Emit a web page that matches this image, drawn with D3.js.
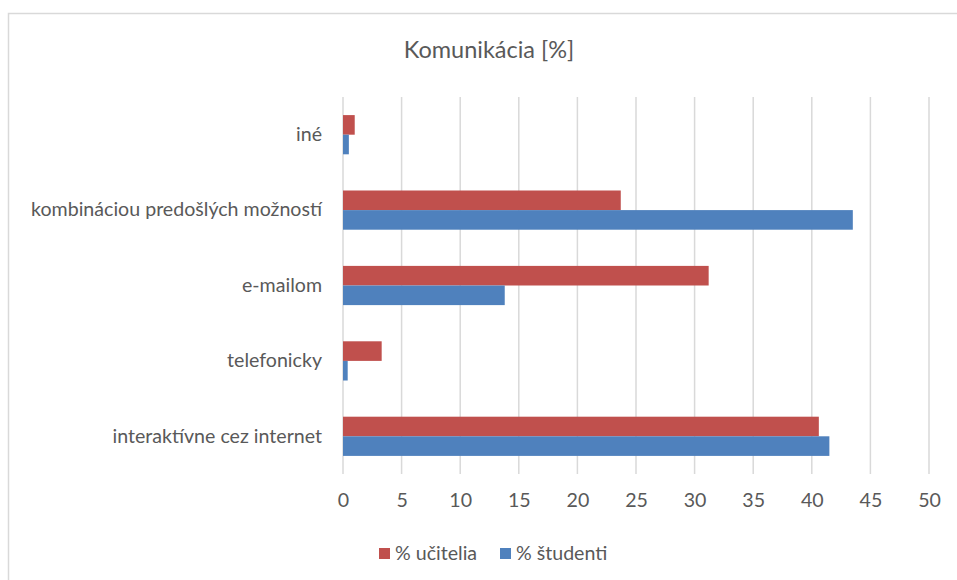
<!DOCTYPE html>
<html>
<head>
<meta charset="utf-8">
<script src="https://cdn.jsdelivr.net/npm/d3@7"></script>
<style>
  body { margin: 0; background: #fff; }
  text { font-family: Lato, "Open Sans", sans-serif; fill: #595959; }
</style>
</head>
<body>
<div id="chart"></div>
<script>
// Komunikácia [%] - horizontal grouped bars

const categories = ["iné", "kombináciou predošlých možností", "e-mailom", "telefonicky", "interaktívne cez internet"];
const ucitelia = [1.0, 23.7, 31.2, 3.3, 40.6];
const studenti = [0.5, 43.5, 13.8, 0.4, 41.5];
const seriesNames = ["% učitelia", "% študenti"];
const xTicks = [0, 5, 10, 15, 20, 25, 30, 35, 40, 45, 50];

const width = 957;
const height = 580;
const margin = { top: 97, right: 28, bottom: 106, left: 343 };

const colors = ["#C0504D", "#4F81BD"];
const fontSize = 19.6;

const svg = d3.select("#chart")
    .append("svg")
    .attr("width", width)
    .attr("height", height);

// chart border (continues off the right and bottom edges)
svg.append("rect")
    .attr("x", 8.5)
    .attr("y", 13.5)
    .attr("width", 1000)
    .attr("height", 1000)
    .attr("fill", "none")
    .attr("stroke", "#d9d9d9")
    .attr("stroke-width", 1.5);

const x = d3.scaleLinear()
    .domain([0, 50])
    .range([margin.left, width - margin.right]);

const y = d3.scaleBand()
    .domain(categories)
    .range([margin.top, height - margin.bottom])
    .paddingInner(0.48)
    .paddingOuter(0.24);

const y1 = d3.scaleBand()
    .domain(seriesNames)
    .range([0, y.bandwidth()]);

// gridlines
svg.append("g")
    .selectAll("line")
    .data(xTicks)
    .join("line")
    .attr("x1", d => x(d))
    .attr("x2", d => x(d))
    .attr("y1", margin.top)
    .attr("y2", height - margin.bottom)
    .attr("stroke", "#d9d9d9")
    .attr("stroke-width", 1.5);

// bars
const rows = categories.map((c, i) => ({ c, vals: [ucitelia[i], studenti[i]] }));

const group = svg.append("g")
    .selectAll("g")
    .data(rows)
    .join("g")
    .attr("transform", d => `translate(0,${y(d.c)})`);

group.selectAll("rect")
    .data(d => d.vals.map((v, k) => ({ v, k })))
    .join("rect")
    .attr("x", x(0))
    .attr("y", d => y1(seriesNames[d.k]))
    .attr("width", d => x(d.v) - x(0))
    .attr("height", y1.bandwidth())
    .attr("fill", d => colors[d.k]);

// x axis labels
const xAxis = svg.append("g")
    .attr("transform", `translate(0,${height - margin.bottom})`)
    .call(d3.axisBottom(x).tickValues(xTicks).tickSize(0).tickPadding(19));
xAxis.select(".domain").remove();
xAxis.selectAll("text")
    .attr("font-size", fontSize)
    .style("font-family", "Lato, 'Open Sans', sans-serif")
    .attr("fill", "#595959");

// y axis labels
const yAxis = svg.append("g")
    .attr("transform", `translate(${margin.left},0)`)
    .call(d3.axisLeft(y).tickSize(0).tickPadding(21));
yAxis.select(".domain").remove();
yAxis.selectAll("text")
    .attr("font-size", fontSize)
    .style("font-family", "Lato, 'Open Sans', sans-serif")
    .attr("fill", "#595959");

// title
svg.append("text")
    .attr("x", 489)
    .attr("y", 58)
    .attr("text-anchor", "middle")
    .attr("font-size", 23.5)
    .text("Komunikácia [%]");

// legend
const legendPos = [379, 500];
const legend = svg.append("g")
    .selectAll("g")
    .data(seriesNames)
    .join("g")
    .attr("transform", (d, i) => `translate(${legendPos[i]},548)`);

legend.append("rect")
    .attr("width", 11)
    .attr("height", 11)
    .attr("fill", (d, i) => colors[i]);

legend.append("text")
    .attr("x", 16)
    .attr("y", 11.5)
    .attr("font-size", fontSize)
    .text(d => d);
</script>
</body>
</html>
